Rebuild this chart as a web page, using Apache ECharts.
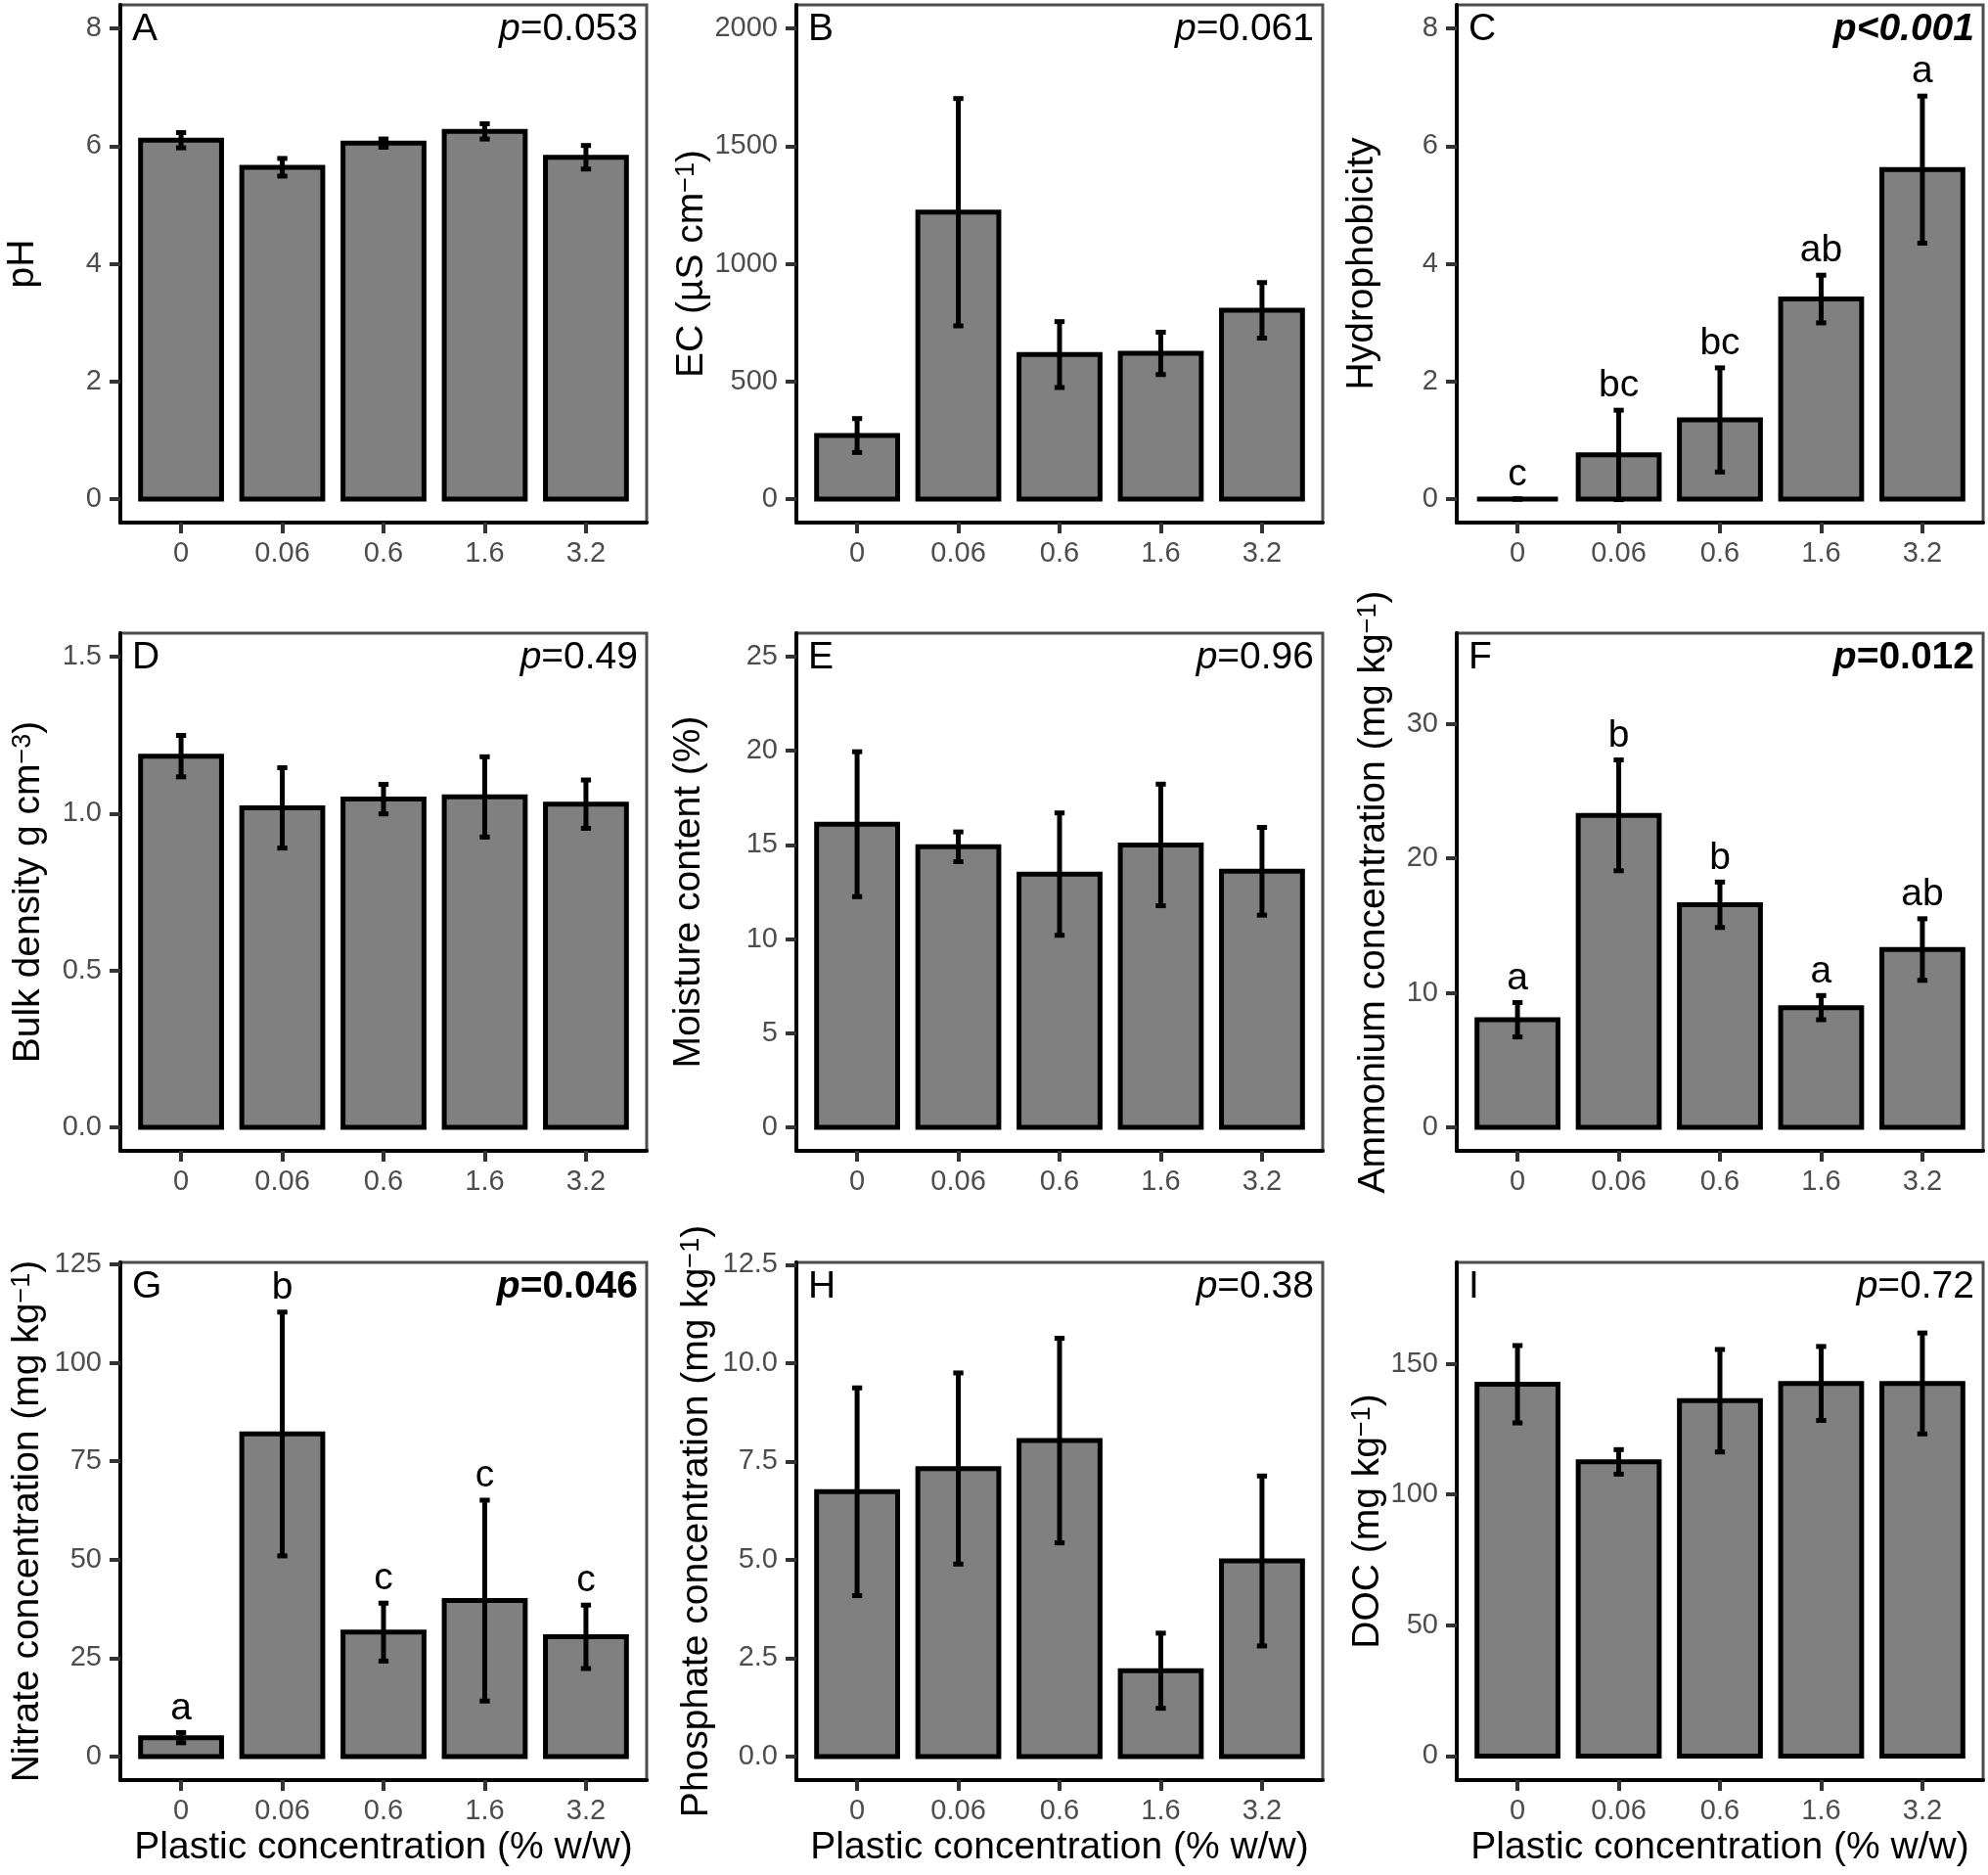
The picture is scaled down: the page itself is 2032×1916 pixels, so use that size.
<!DOCTYPE html>
<html style="height: 100%">

<head>
    <meta charset="utf-8">
</head>

<body style="height: 100%; width: 100%; margin: 0; background: #fff;">
    <div id="container" style="width: 2032px; height: 1916px;"></div>
    <script type="text/javascript" src="https://cdn.jsdelivr.net/npm/echarts@6/dist/echarts.min.js"></script>
    <script type="text/javascript">
        // plastic concentration groups (% w/w)
        var categories = ['0', '0.06', '0.6', '1.6', '3.2'];

        // mean and standard error for each soil property
        var phMean = [6.10, 5.64, 6.05, 6.25, 5.81];
        var phSe = [0.13, 0.15, 0.07, 0.13, 0.20];
        var ecMean = [270, 1219, 614, 619, 802];
        var ecSe = [72, 483, 140, 90, 118];
        var hydroMean = [0, 0.75, 1.345, 3.40, 5.60];
        var hydroSe = [0, 0.76, 0.885, 0.405, 1.25];
        var bulkMean = [1.183, 1.018, 1.046, 1.053, 1.030];
        var bulkSe = [0.066, 0.128, 0.047, 0.128, 0.077];
        var moistMean = [16.1, 14.9, 13.45, 15.0, 13.6];
        var moistSe = [3.85, 0.79, 3.25, 3.23, 2.33];
        var ammMean = [8.0, 23.2, 16.55, 8.9, 13.22];
        var ammSe = [1.28, 4.12, 1.69, 0.9, 2.29];
        var nitMean = [4.8, 81.9, 31.6, 39.6, 30.4];
        var nitSe = [1.3, 30.95, 7.35, 25.5, 8.05];
        var phosMean = [6.73, 7.32, 8.03, 2.18, 4.97];
        var phosSe = [2.64, 2.43, 2.60, 0.955, 2.16];
        var docMean = [142.2, 112.5, 135.9, 142.5, 142.5];
        var docSe = [14.8, 4.7, 19.6, 14.15, 19.3];

        // significance letters
        var hydroLetters = ['c', 'bc', 'bc', 'ab', 'a'];
        var ammLetters = ['a', 'b', 'b', 'a', 'ab'];
        var nitLetters = ['a', 'b', 'c', 'c', 'c'];

        // y axis extents and tick values
        var phRange = [-0.4, 8.4], phTicks = [0, 2, 4, 6, 8];
        var ecRange = [-100, 2100], ecTicks = [0, 500, 1000, 1500, 2000];
        var hydroRange = [-0.4, 8.4], hydroTicks = [0, 2, 4, 6, 8];
        var bulkRange = [-0.075, 1.575], bulkTicks = [0, 0.5, 1, 1.5];
        var moistRange = [-1.25, 26.25], moistTicks = [0, 5, 10, 15, 20, 25];
        var ammRange = [-1.75, 36.75], ammTicks = [0, 10, 20, 30];
        var nitRange = [-5.975, 125.475], nitTicks = [0, 25, 50, 75, 100, 125];
        var phosRange = [-0.6, 12.56], phosTicks = [0, 2.5, 5, 7.5, 10, 12.5];
        var docRange = [-9.2, 188.8], docTicks = [0, 50, 100, 150];

        // p values
        var pSign = ['=', '=', '<', '=', '=', '=', '=', '=', '='];
        var pValue = ['0.053', '0.061', '0.001', '0.49', '0.96', '0.012', '0.046', '0.38', '0.72'];
        var pBold = [false, false, true, false, false, true, true, false, false];

        var FONT = 'Liberation Sans, Arial, sans-serif';
        var colLeft = [123, 814, 1489];
        var rowTop = [5, 647, 1290];
        var boxW = 538, boxH = 529;
        var xTicks = [0, 1, 2, 3, 4];

        var panels = [
            { tag: 'A', name: '{t|pH}', mean: phMean, se: phSe, range: phRange, ticks: phTicks, dec: 0, gap: 80 },
            { tag: 'B', name: '{t|EC (µS cm}{s|−1}{t|)}', mean: ecMean, se: ecSe, range: ecRange, ticks: ecTicks, dec: 0, gap: 81 },
            { tag: 'C', name: '{t|Hydrophobicity}', mean: hydroMean, se: hydroSe, range: hydroRange, ticks: hydroTicks, dec: 0, gap: 77, letters: hydroLetters },
            { tag: 'D', name: '{t|Bulk density g cm}{s|−3}{t|)}', mean: bulkMean, se: bulkSe, range: bulkRange, ticks: bulkTicks, dec: 1, gap: 74 },
            { tag: 'E', name: '{t|Moisture content (%)}', mean: moistMean, se: moistSe, range: moistRange, ticks: moistTicks, dec: 0, gap: 90 },
            { tag: 'F', name: '{t|Ammonium concentration (mg kg}{s|−1}{t|)}', mean: ammMean, se: ammSe, range: ammRange, ticks: ammTicks, dec: 0, gap: 65, letters: ammLetters },
            { tag: 'G', name: '{t|Nitrate concentration (mg kg}{s|−1}{t|)}', mean: nitMean, se: nitSe, range: nitRange, ticks: nitTicks, dec: 0, gap: 75, letters: nitLetters },
            { tag: 'H', name: '{t|Phosphate concentration (mg kg}{s|−1}{t|)}', mean: phosMean, se: phosSe, range: phosRange, ticks: phosTicks, dec: 1, gap: 82 },
            { tag: 'I', name: '{t|DOC (mg kg}{s|−1}{t|)}', mean: docMean, se: docSe, range: docRange, ticks: docTicks, dec: 0, gap: 66 }
        ];

        var option = {
            backgroundColor: '#fff',
            animation: false,
            grid: [],
            xAxis: [],
            yAxis: [],
            title: [],
            series: []
        };

        var textRich = {
            n: { fontFamily: FONT, fontSize: 39, color: '#000', fontWeight: 'normal' },
            i: { fontFamily: FONT, fontSize: 39, color: '#000', fontWeight: 'normal', fontStyle: 'italic' },
            b: { fontFamily: FONT, fontSize: 39, color: '#000', fontWeight: 'bold' },
            bi: { fontFamily: FONT, fontSize: 39, color: '#000', fontWeight: 'bold', fontStyle: 'italic' }
        };

        panels.forEach(function (pn, k) {
            var col = k % 3, row = Math.floor(k / 3);
            var left = colLeft[col], top = rowTop[row];

            option.grid.push({
                left: left, top: top, width: boxW, height: boxH,
                show: true, borderColor: '#4d4d4d', borderWidth: 3, backgroundColor: '#fff',
                containLabel: false, outerBoundsMode: 'none'
            });

            option.xAxis.push({
                type: 'value', gridIndex: k, min: -0.6, max: 4.6,
                axisLine: { onZero: false, lineStyle: { color: '#000', width: 4 } },
                axisTick: { length: 11, customValues: xTicks, lineStyle: { color: '#333', width: 4 } },
                axisLabel: {
                    customValues: xTicks, margin: 17, fontSize: 29, color: '#4d4d4d', fontFamily: FONT,
                    formatter: function (v) { return categories[Math.round(v)]; }
                },
                splitLine: { show: false },
                name: row === 2 ? 'Plastic concentration (% w/w)' : '',
                nameLocation: 'middle', nameGap: 50,
                nameTextStyle: { fontSize: 39, color: '#000', fontFamily: FONT }
            });

            option.yAxis.push({
                type: 'value', gridIndex: k, min: pn.range[0], max: pn.range[1],
                axisLine: { show: true, onZero: false, lineStyle: { color: '#000', width: 4 } },
                axisTick: { show: true, length: 11, customValues: pn.ticks, lineStyle: { color: '#333', width: 4 } },
                axisLabel: {
                    customValues: pn.ticks, margin: 19, fontSize: 29, color: '#4d4d4d', fontFamily: FONT,
                    formatter: function (v) { return v.toFixed(pn.dec); }
                },
                splitLine: { show: false },
                name: pn.name, nameLocation: 'middle', nameRotate: 90, nameGap: pn.gap,
                nameTextStyle: {
                    fontSize: 39, color: '#000', fontFamily: FONT,
                    rich: {
                        t: { fontSize: 39, color: '#000', fontFamily: FONT },
                        s: { fontSize: 27, color: '#000', fontFamily: FONT, verticalAlign: 'top' }
                    }
                }
            });

            // panel tag and p value
            option.title.push({
                text: pn.tag, left: left + 12, top: top + 6, padding: 0,
                textStyle: { fontFamily: FONT, fontSize: 39, fontWeight: 'normal', color: '#000' }
            });
            var pStr;
            if (pSign[k] === '<') {
                pStr = '{bi|p<' + pValue[k] + '}';
            } else if (pBold[k]) {
                pStr = '{bi|p}{b|=' + pValue[k] + '}';
            } else {
                pStr = '{i|p}{n|=' + pValue[k] + '}';
            }
            option.title.push({
                text: pStr, right: 2032 - (left + boxW - 9), top: top + 6, padding: 0,
                textStyle: { fontFamily: FONT, fontSize: 39, fontWeight: 'normal', color: '#000', rich: textRich }
            });

            // bars
            option.series.push({
                type: 'custom', xAxisIndex: k, yAxisIndex: k, z: 2,
                data: pn.mean.map(function (m, i) { return [i, m]; }),
                renderItem: function (params, api) {
                    var x = api.value(0), y = api.value(1);
                    var p0 = api.coord([x - 0.4, y]);
                    var p1 = api.coord([x + 0.4, 0]);
                    return {
                        type: 'rect',
                        shape: { x: p0[0], y: p0[1], width: p1[0] - p0[0], height: p1[1] - p0[1] },
                        style: { fill: '#808080', stroke: '#000', lineWidth: 5 }
                    };
                }
            });

            // error bars (mean ± se)
            option.series.push({
                type: 'custom', xAxisIndex: k, yAxisIndex: k, z: 3,
                data: pn.mean.map(function (m, i) { return [i, m - pn.se[i], m + pn.se[i]]; }),
                renderItem: function (params, api) {
                    var x = api.value(0);
                    var lo = api.coord([x, api.value(1)]);
                    var hi = api.coord([x, api.value(2)]);
                    var half = api.size([0.05, 0])[0];
                    var st = { stroke: '#000', lineWidth: 5 };
                    return {
                        type: 'group',
                        children: [
                            { type: 'line', shape: { x1: lo[0], y1: lo[1], x2: hi[0], y2: hi[1] }, style: st },
                            { type: 'line', shape: { x1: hi[0] - half, y1: hi[1], x2: hi[0] + half, y2: hi[1] }, style: st },
                            { type: 'line', shape: { x1: lo[0] - half, y1: lo[1], x2: lo[0] + half, y2: lo[1] }, style: st }
                        ]
                    };
                }
            });

            // significance letters above error bars
            if (pn.letters) {
                option.series.push({
                    type: 'custom', xAxisIndex: k, yAxisIndex: k, z: 4,
                    data: pn.mean.map(function (m, i) { return [i, m + pn.se[i]]; }),
                    renderItem: function (params, api) {
                        var p = api.coord([api.value(0), api.value(1)]);
                        return {
                            type: 'text', x: p[0], y: p[1] - 5,
                            style: {
                                text: pn.letters[params.dataIndex],
                                fontFamily: FONT, fontSize: 39, fill: '#000',
                                align: 'center', verticalAlign: 'bottom'
                            }
                        };
                    }
                });
            }
        });

        var dom = document.getElementById('container');
        var myChart = echarts.init(dom);
        myChart.setOption(option);
        window.onresize = myChart.resize;
    </script>
</body>

</html>
